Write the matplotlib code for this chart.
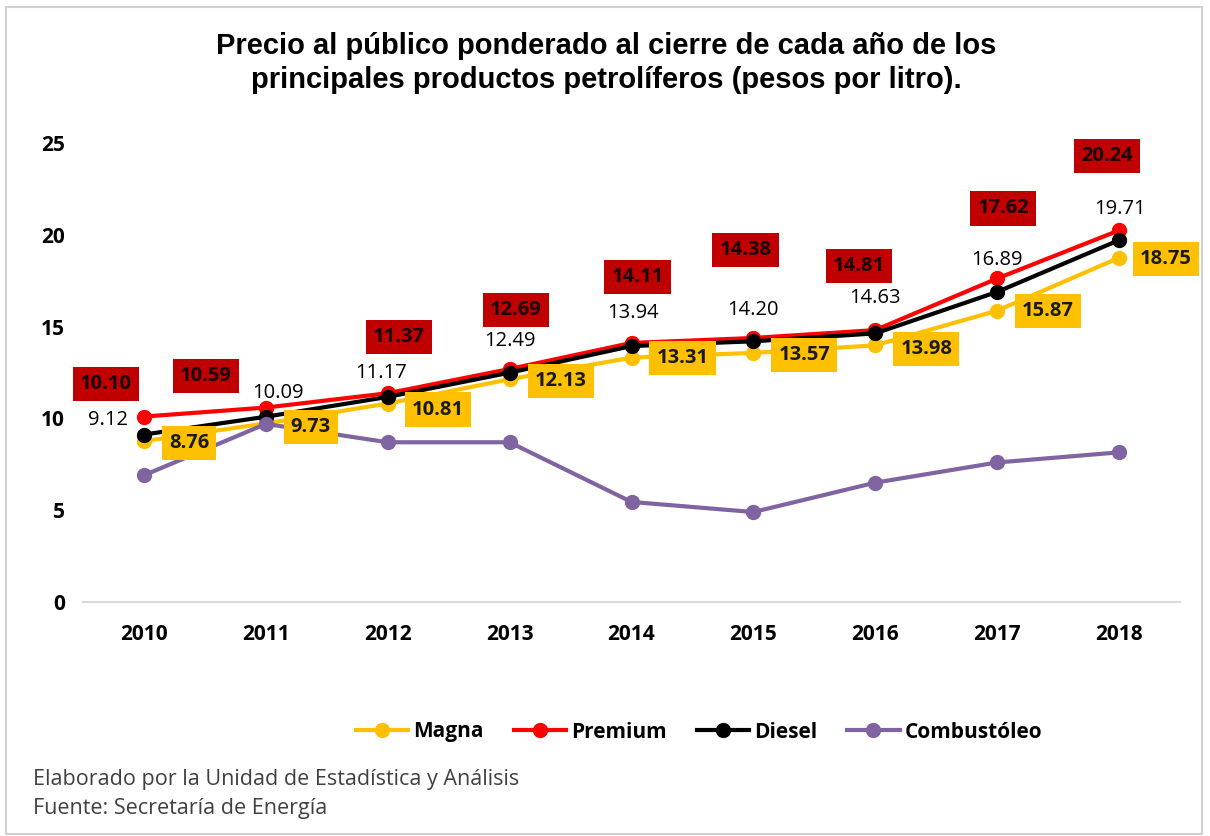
import matplotlib
matplotlib.use("Agg")
import matplotlib.pyplot as plt
from matplotlib.patches import Rectangle

years = ["2010", "2011", "2012", "2013", "2014", "2015", "2016", "2017", "2018"]
magna = [8.76, 9.73, 10.81, 12.13, 13.31, 13.57, 13.98, 15.87, 18.75]
premium = [10.10, 10.59, 11.37, 12.69, 14.11, 14.38, 14.81, 17.62, 20.24]
diesel = [9.12, 10.09, 11.17, 12.49, 13.94, 14.20, 14.63, 16.89, 19.71]
combustoleo = [6.9, 9.7, 8.7, 8.7, 5.45, 4.9, 6.5, 7.6, 8.15]

title = "Precio al público ponderado al cierre de cada año de los\nprincipales productos petrolíferos (pesos por litro)."
footer = "Elaborado por la Unidad de Estadística y Análisis\nFuente: Secretaría de Energía"

# label offsets (pixels) – layout only
prem_off = [(-38, 33), (-60, 32), (11, 56), (6, 59), (6, 66), (-8, 88), (-16, 64), (6, 70), (-12, 74)]
dies_off = [(-36, 15), (12, 24), (-7, 24), (0, 32), (1, 33), (0, 31), (0, 35), (0, 32), (1, 31)]
magna_off = [(45, -2), (45, -4), (50, -6), (51, -2), (51, 0), (51, -2), (51, -4), (51, 0), (47, -1)]

C_MAGNA = "#FFC000"
C_PREM = "#FF0000"
C_DIES = "#000000"
C_COMB = "#8064A2"
C_PBOX = "#C00000"

LF = "Open Sans"

fig = plt.figure(figsize=(12.1, 8.36), dpi=100)
fig.patch.set_facecolor("white")
fig.patches.append(Rectangle((6 / 1210, 1 - 834 / 836), 1196 / 1210, 827 / 836,
                             transform=fig.transFigure, fill=False,
                             edgecolor="#D0D0D0", linewidth=1.5))

ax = fig.add_axes([83 / 1210, 1 - 602 / 836, (1180 - 83) / 1210, (602 - 143) / 836])
x = list(range(len(years)))

lw = 3.0
ms = 10
ax.plot(x, magna, color=C_MAGNA, lw=lw, marker="o", ms=ms, label="Magna", zorder=2)
ax.plot(x, premium, color=C_PREM, lw=lw, marker="o", ms=ms, label="Premium", zorder=3)
ax.plot(x, diesel, color=C_DIES, lw=lw, marker="o", ms=ms, label="Diesel", zorder=4)
ax.plot(x, combustoleo, color=C_COMB, lw=lw, marker="o", ms=ms, label="Combustóleo", zorder=5)

ax.set_xlim(-0.5, len(years) - 0.5)
ax.set_ylim(0, 25)
ax.set_yticks([0, 5, 10, 15, 20, 25])
ax.set_xticks(x)
ax.set_xticklabels(years)
for s in ["top", "right", "left"]:
    ax.spines[s].set_visible(False)
ax.spines["bottom"].set_color("#D9D9D9")
ax.spines["bottom"].set_linewidth(1.5)
ax.tick_params(axis="both", length=0, labelsize=15, colors="#000000")
ax.tick_params(axis="y", pad=13)
ax.tick_params(axis="x", pad=16)
for lab in ax.get_xticklabels() + ax.get_yticklabels():
    lab.set_fontfamily(LF)
    lab.set_fontweight("bold")

for i in x:
    ax.annotate(f"{premium[i]:.2f}", (i, premium[i]), xytext=prem_off[i],
                textcoords="offset pixels", ha="center", va="center",
                fontsize=14.5, fontweight="bold", family=LF, color="#1A0000",
                bbox=dict(boxstyle="square,pad=0.35", fc=C_PBOX, ec="none"), zorder=10)
    ax.annotate(f"{diesel[i]:.2f}", (i, diesel[i]), xytext=dies_off[i],
                textcoords="offset pixels", ha="center", va="center",
                fontsize=14.5, fontweight="normal", family=LF, color="#000000", zorder=10)
    ax.annotate(f"{magna[i]:.2f}", (i, magna[i]), xytext=magna_off[i],
                textcoords="offset pixels", ha="center", va="center",
                fontsize=14.5, fontweight="bold", family=LF, color="#1A1A1A",
                bbox=dict(boxstyle="square,pad=0.35", fc=C_MAGNA, ec="none"), zorder=10)

fig.text(606 / 1210, 1 - 63 / 836, title, ha="center", va="center",
         fontsize=21, fontweight="bold", family="Liberation Sans",
         linespacing=1.3, color="#000000")

leg = fig.legend(loc="center", bbox_to_anchor=(699 / 1210, 1 - 732 / 836), ncol=4,
                 frameon=False, handlelength=2.5, columnspacing=1.45, handletextpad=0.25,
                 prop={"family": LF, "weight": "bold", "size": 15})

fig.text(33 / 1210, 1 - 794 / 836, footer, ha="left", va="center",
         fontsize=15.5, family=LF, color="#404040", linespacing=1.55)

fig.savefig("out.png", dpi=100)
